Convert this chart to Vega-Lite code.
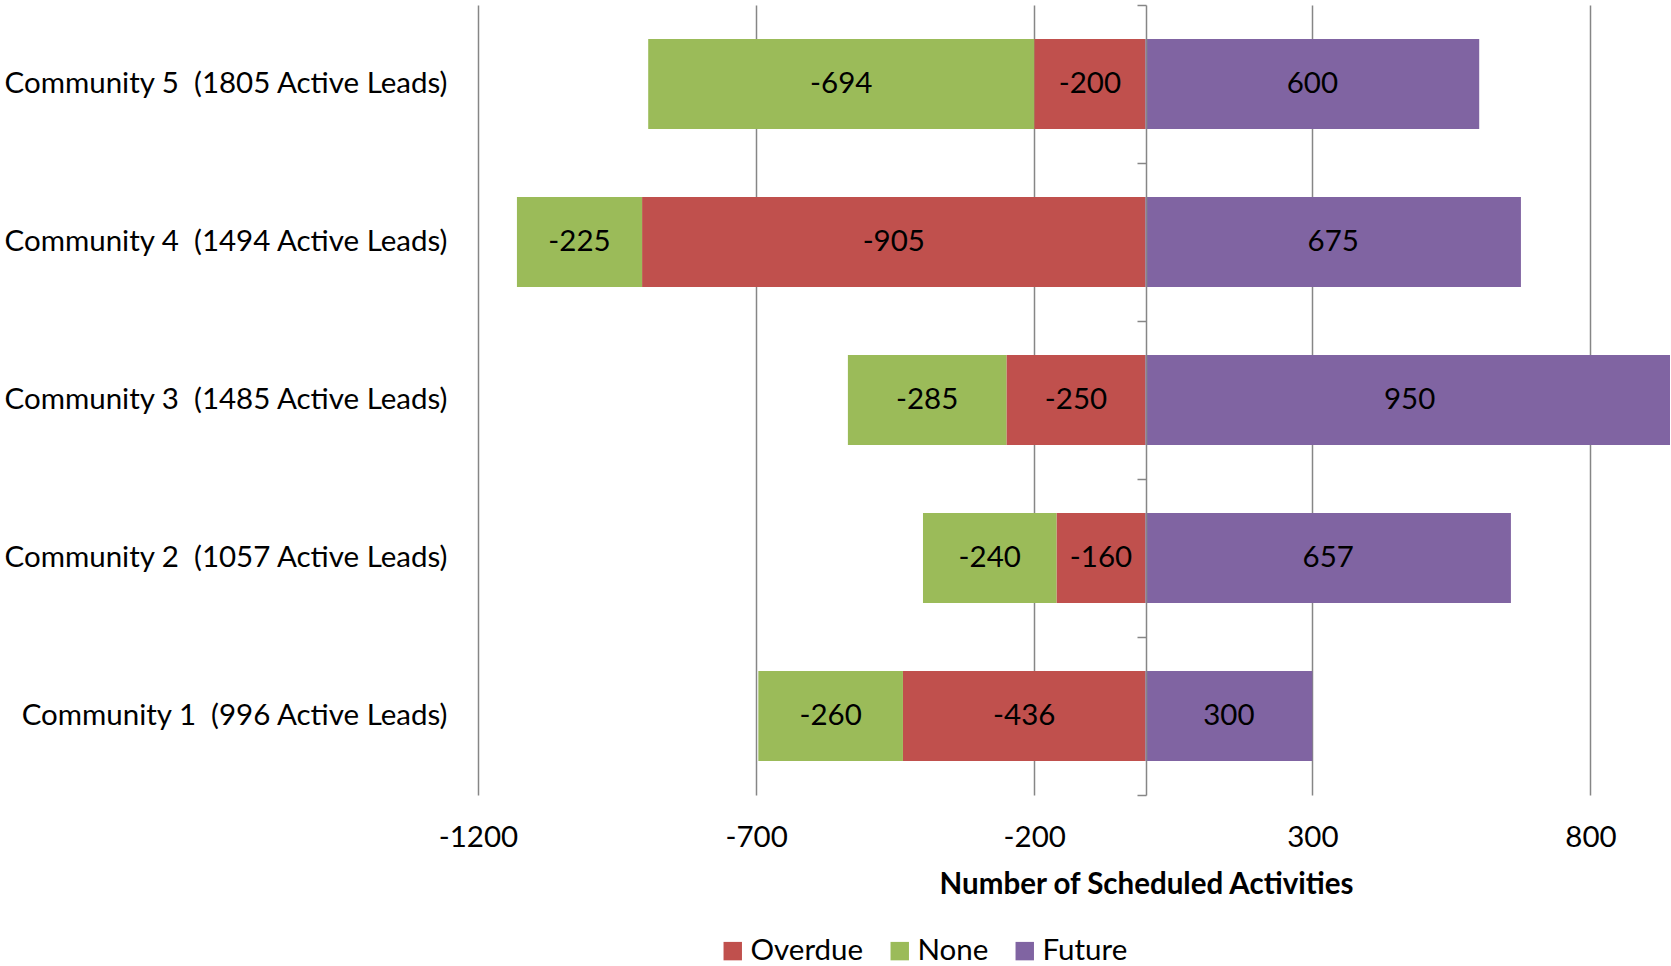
{
  "$schema": "https://vega.github.io/schema/vega-lite/v6.json",
  "width": 1192,
  "height": 790,
  "autosize": {"type": "none"},
  "padding": {"left": 478, "top": 5, "right": 1, "bottom": 171},
  "background": "white",
  "config": {"view": {"stroke": null}, "font": "Lato"},
  "data": {
    "values": [
      {"community": "Community 5 \u00a0(1805 Active Leads)", "status": "Overdue", "ord": 1, "value": -200},
      {"community": "Community 5 \u00a0(1805 Active Leads)", "status": "None", "ord": 2, "value": -694},
      {"community": "Community 5 \u00a0(1805 Active Leads)", "status": "Future", "ord": 3, "value": 600},
      {"community": "Community 4 \u00a0(1494 Active Leads)", "status": "Overdue", "ord": 1, "value": -905},
      {"community": "Community 4 \u00a0(1494 Active Leads)", "status": "None", "ord": 2, "value": -225},
      {"community": "Community 4 \u00a0(1494 Active Leads)", "status": "Future", "ord": 3, "value": 675},
      {"community": "Community 3 \u00a0(1485 Active Leads)", "status": "Overdue", "ord": 1, "value": -250},
      {"community": "Community 3 \u00a0(1485 Active Leads)", "status": "None", "ord": 2, "value": -285},
      {"community": "Community 3 \u00a0(1485 Active Leads)", "status": "Future", "ord": 3, "value": 950},
      {"community": "Community 2 \u00a0(1057 Active Leads)", "status": "Overdue", "ord": 1, "value": -160},
      {"community": "Community 2 \u00a0(1057 Active Leads)", "status": "None", "ord": 2, "value": -240},
      {"community": "Community 2 \u00a0(1057 Active Leads)", "status": "Future", "ord": 3, "value": 657},
      {"community": "Community 1 \u00a0(996 Active Leads)", "status": "Overdue", "ord": 1, "value": -436},
      {"community": "Community 1 \u00a0(996 Active Leads)", "status": "None", "ord": 2, "value": -260},
      {"community": "Community 1 \u00a0(996 Active Leads)", "status": "Future", "ord": 3, "value": 300}
    ]
  },
  "transform": [
    {"stack": "value", "groupby": ["community"], "sort": [{"field": "ord", "order": "ascending"}], "as": ["x0", "x1"]},
    {"calculate": "(datum.x0 + datum.x1) / 2", "as": "mid"}
  ],
  "layer": [
    {
      "mark": {"type": "bar", "clip": true, "height": {"band": 0.57}},
      "encoding": {
        "x": {
          "field": "x0", "type": "quantitative",
          "title": "Number of Scheduled Activities",
          "scale": {"domain": [-1200, 943], "nice": false, "zero": false},
          "axis": {
            "values": [-1200, -700, -200, 300, 800],
            "labelExpr": "'' + datum.value",
            "labelFlush": false,
            "grid": true, "gridColor": "#868686", "gridWidth": 1.5,
            "domain": false, "ticks": false,
            "labelFontSize": 29.5, "labelColor": "black", "labelPadding": 28,
            "titleFontSize": 29.5, "titleFontWeight": "bold", "titleColor": "black",
            "titleX": 668, "titleY": 98, "titleBaseline": "alphabetic", "titleAlign": "center",
            "zindex": 0
          }
        },
        "x2": {"field": "x1"},
        "y": {
          "field": "community", "type": "nominal",
          "sort": ["Community 5 \u00a0(1805 Active Leads)", "Community 4 \u00a0(1494 Active Leads)", "Community 3 \u00a0(1485 Active Leads)", "Community 2 \u00a0(1057 Active Leads)", "Community 1 \u00a0(996 Active Leads)"],
          "scale": {"paddingInner": 0, "paddingOuter": 0},
          "axis": {"title": null, "domain": false, "ticks": false, "grid": false, "labelFontSize": 29.5, "labelColor": "black", "labelPadding": 31, "labelLimit": 0}
        },
        "color": {
          "field": "status", "type": "nominal",
          "scale": {"domain": ["Overdue", "None", "Future"], "range": ["#C0504D", "#9BBB59", "#8064A2"]},
          "legend": {
            "orient": "none", "legendX": 240, "legendY": 931, "direction": "horizontal",
            "title": null, "symbolType": "square", "symbolSize": 340, "symbolStrokeWidth": 0,
            "labelFontSize": 29.5, "labelColor": "black", "labelOffset": 3, "columnPadding": 21
          }
        }
      }
    },
    {
      "mark": {"type": "text", "fontSize": 29.5, "color": "black"},
      "encoding": {
        "x": {"field": "mid", "type": "quantitative", "title": "Number of Scheduled Activities"},
        "y": {
          "field": "community", "type": "nominal",
          "sort": ["Community 5 \u00a0(1805 Active Leads)", "Community 4 \u00a0(1494 Active Leads)", "Community 3 \u00a0(1485 Active Leads)", "Community 2 \u00a0(1057 Active Leads)", "Community 1 \u00a0(996 Active Leads)"],
          "axis": {"orient": "left", "title": null, "labels": false, "domain": true, "domainColor": "#868686", "domainWidth": 1.5, "ticks": true, "tickColor": "#868686", "tickWidth": 1.5, "tickSize": 9, "tickBand": "extent", "offset": -668, "grid": false, "zindex": 1}
        },
        "text": {"field": "value", "type": "nominal"}
      }
    }
  ],
  "resolve": {"axis": {"y": "independent"}}
}
